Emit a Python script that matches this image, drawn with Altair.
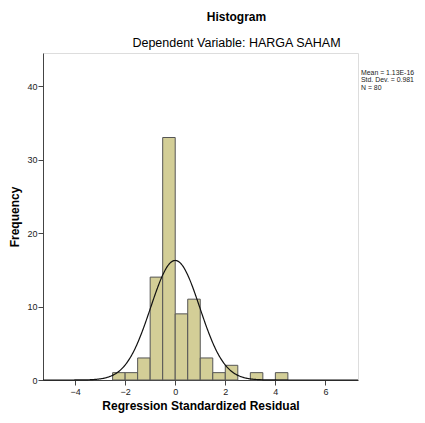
import altair as alt
import pandas as pd

# Histogram data (bin width 0.5)
bin_starts = [-2.5, -2.0, -1.5, -1.0, -0.5, 0.0, 0.5, 1.0, 1.5, 2.0, 2.5, 3.0, 3.5, 4.0]
counts     = [1,    1,    3,    14,   33,   9,    11,  3,   1,   2,   0,   1,   0,   1]
bin_width = 0.5

mean_val = 1.13e-16
sd_val = 0.981
n_val = 80

stats_lines = ["Mean = 1.13E-16", "Std. Dev. = 0.981", "N = 80"]

x_ticks = [-4, -2, 0, 2, 4, 6]
y_ticks = [0, 10, 20, 30, 40]
x_domain = [-5.28, 7.3]
y_domain = [0, 44.5]

FONT = "Liberation Sans"

bars_df = pd.DataFrame({
    "start": bin_starts,
    "end": [b + bin_width for b in bin_starts],
    "count": counts,
})
bars_df = bars_df[bars_df["count"] > 0]

xscale = alt.Scale(domain=x_domain, nice=False, zero=False)
yscale = alt.Scale(domain=y_domain, nice=False)

xaxis = alt.Axis(values=x_ticks, title="Regression Standardized Residual", grid=False,
                 labelFontSize=9, labelColor="#222", tickSize=5, tickColor="#444",
                 domainColor="#444", titleFontSize=12, titleFontWeight="bold",
                 titleFont=FONT, labelFont=FONT, titlePadding=4, labelPadding=2)
yaxis = alt.Axis(values=y_ticks, title="Frequency", grid=False,
                 labelFontSize=9, labelColor="#222", tickSize=5, tickColor="#444",
                 domainColor="#444", titleFontSize=12, titleFontWeight="bold",
                 titleFont=FONT, labelFont=FONT, titlePadding=5, labelPadding=1)

bars = alt.Chart(bars_df).mark_rect(fill="#D3CE97", stroke="#555", strokeWidth=1).encode(
    x=alt.X("start:Q", scale=xscale, axis=xaxis),
    x2="end:Q",
    y=alt.Y("count:Q", scale=yscale, axis=yaxis),
)

curve = alt.Chart(alt.sequence(x_domain[0], x_domain[1] + 0.01, 0.02, as_="x")).transform_calculate(
    y=f"{n_val}*{bin_width}*exp(-0.5*pow((datum.x-({mean_val}))/{sd_val},2))/({sd_val}*sqrt(2*PI))"
).mark_line(color="#111", strokeWidth=1.2).encode(
    x=alt.X("x:Q", scale=xscale, axis=xaxis),
    y=alt.Y("y:Q", scale=yscale, axis=yaxis),
)

stats_df = pd.DataFrame({"text": ["\n".join(stats_lines)]})
stats = alt.Chart(stats_df).mark_text(align="left", baseline="top", fontSize=6.9,
                                      font=FONT, color="#222", lineBreak="\n",
                                      lineHeight=7.4).encode(
    x=alt.value(318),
    y=alt.value(17),
    text="text:N",
)

chart = alt.layer(bars, curve, stats).properties(
    width=315, height=327,
    autosize=alt.AutoSizeParams(type="none"),
    padding={"left": 35, "top": 45, "right": 58, "bottom": 34},
    title=alt.TitleParams(
        text="Histogram", subtitle="Dependent Variable: HARGA SAHAM",
        anchor="middle", dx=36, font=FONT, fontSize=12, fontWeight="bold",
        subtitleFont=FONT, subtitleFontSize=12.5, subtitleColor="#000",
        subtitlePadding=13, offset=3, color="#000",
    ),
).configure_view(fill="#F0F0F0", stroke="#666", strokeWidth=1.5).configure(background="white")

chart.save("out.html", embed_options={"renderer": "svg", "actions": False})
